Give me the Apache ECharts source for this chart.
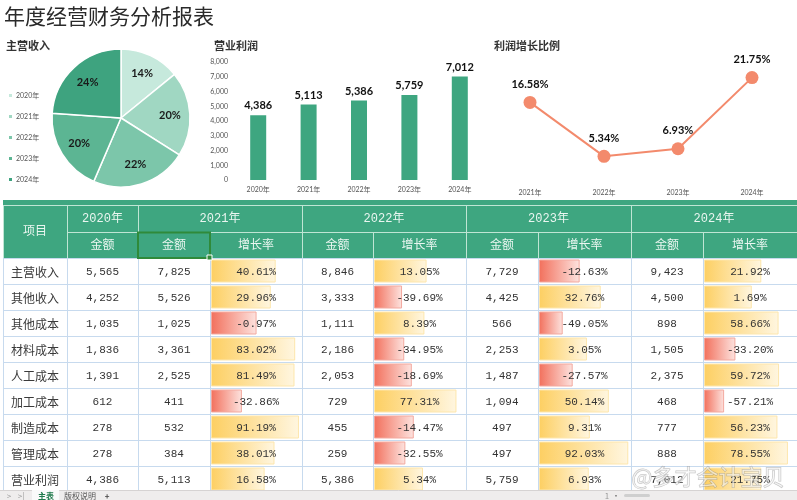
<!DOCTYPE html>
<html><head><meta charset="utf-8">
<script src="https://cdn.jsdelivr.net/npm/echarts@6/dist/echarts.min.js"></script>
<style>html,body{margin:0;padding:0;background:#fff}#c{width:797px;height:500px}</style>
</head><body><div id="c"></div><script>
// ---------- data ----------
const years = ['2020年', '2021年', '2022年', '2023年', '2024年'];
const growthYears = ['2021年', '2022年', '2023年', '2024年'];
const revenue = [5565, 7825, 8846, 7729, 9423];
const profit = [4386, 5113, 5386, 5759, 7012];
const profitGrowth = [16.58, 5.34, 6.93, 21.75];
const rowNames = ['主营收入', '其他收入', '其他成本', '材料成本', '人工成本', '加工成本', '制造成本', '管理成本', '营业利润'];
const amt2020 = [5565, 4252, 1035, 1836, 1391, 612, 278, 278, 4386];
const amt2021 = [7825, 5526, 1025, 3361, 2525, 411, 532, 384, 5113];
const rate2021 = [40.61, 29.96, -0.97, 83.02, 81.49, -32.86, 91.19, 38.01, 16.58];
const amt2022 = [8846, 3333, 1111, 2186, 2053, 729, 455, 259, 5386];
const rate2022 = [13.05, -39.69, 8.39, -34.95, -18.69, 77.31, -14.47, -32.55, 5.34];
const amt2023 = [7729, 4425, 566, 2253, 1487, 1094, 497, 497, 5759];
const rate2023 = [-12.63, 32.76, -49.05, 3.05, -27.57, 50.14, 9.31, 92.03, 6.93];
const amt2024 = [9423, 4500, 898, 1505, 2375, 468, 777, 888, 7012];
const rate2024 = [21.92, 1.69, 58.66, -33.20, 59.72, -57.21, 56.23, 78.55, 21.75];
const profitTicks = [0, 8000, 1000];

// ---------- layout ----------
const CJK = '"Noto Sans CJK SC"';
const NUMF = 'Lato, "Noto Sans CJK SC"';
const MONO = '"Liberation Mono", "Noto Sans CJK SC"';
const colX = [3, 67, 138, 210, 302, 373, 466, 538, 631, 703, 797];
const dataTop = 258, rowH = 26;
const headGreen = '#3ea680', headLine = '#bfe5d4', cellLine = '#c7daee';
const fmt = v => v.toLocaleString('en-US');
const cx = (a, b) => (a + b) / 2;

const g = [];
// header background
g.push({type: 'rect', shape: {x: 3, y: 200, width: 794, height: 58}, style: {fill: headGreen}});
g.push({type: 'line', shape: {x1: 3, y1: 205.5, x2: 797, y2: 205.5}, style: {stroke: headLine, lineWidth: 1}});
g.push({type: 'line', shape: {x1: 67, y1: 232.5, x2: 797, y2: 232.5}, style: {stroke: headLine, lineWidth: 1}});
g.push({type: 'line', shape: {x1: 3.5, y1: 205, x2: 3.5, y2: 258}, style: {stroke: headLine, lineWidth: 1}});
[67, 138, 302, 466, 631].forEach(x => g.push({type: 'line', shape: {x1: x + .5, y1: 205, x2: x + .5, y2: 232}, style: {stroke: headLine, lineWidth: 1}}));
[67, 138, 210, 302, 373, 466, 538, 631, 703].forEach(x => g.push({type: 'line', shape: {x1: x + .5, y1: 232, x2: x + .5, y2: 258}, style: {stroke: headLine, lineWidth: 1}}));
// data grid lines
for (let i = 0; i <= rowNames.length; i++) {
  const y = dataTop + i * rowH + .5;
  g.push({type: 'line', shape: {x1: 3, y1: y, x2: 797, y2: y}, style: {stroke: cellLine, lineWidth: 1}});
}
colX.slice(0, 10).forEach(x => g.push({type: 'line', shape: {x1: x + .5, y1: dataTop, x2: x + .5, y2: 492}, style: {stroke: cellLine, lineWidth: 1}}));
// header texts
const headTxt = (t, x, y) => g.push({type: 'text', style: {text: t, x: x, y: y, align: 'center', verticalAlign: 'middle', fill: '#eaf6f0', fontSize: 12, fontFamily: MONO}});
headTxt('项目', cx(3, 67), 232);
headTxt(years[0], cx(67, 138), 219);
headTxt(years[1], cx(138, 302), 219);
headTxt(years[2], cx(302, 466), 219);
headTxt(years[3], cx(466, 631), 219);
headTxt(years[4], cx(631, 797), 219);
headTxt('金额', cx(67, 138), 246);
[[138, 210, 302], [302, 373, 466], [466, 538, 631], [631, 703, 797]].forEach(c => {
  headTxt('金额', cx(c[0], c[1]), 246);
  headTxt('增长率', cx(c[1], c[2]), 246);
});
// selection box
g.push({type: 'rect', shape: {x: 138, y: 232.5, width: 72, height: 25.5}, style: {fill: 'none', stroke: '#2f8a3a', lineWidth: 2}, z: 50});
g.push({type: 'rect', shape: {x: 207, y: 255, width: 5, height: 5}, style: {fill: '#2f8a3a', stroke: '#fff', lineWidth: 1}, z: 51});
// data texts
const amtCols = [[amt2020, 67, 138], [amt2021, 138, 210], [amt2022, 302, 373], [amt2023, 466, 538], [amt2024, 631, 703]];
rowNames.forEach((n, i) => {
  const y = dataTop + i * rowH + rowH / 2 + 1;
  g.push({type: 'text', style: {text: n, x: cx(3, 67), y: y, align: 'center', verticalAlign: 'middle', fill: '#3a3a3a', fontSize: 12, fontFamily: CJK}});
  amtCols.forEach(c => g.push({type: 'text', style: {text: fmt(c[0][i]), x: cx(c[1], c[2]), y: y, align: 'center', verticalAlign: 'middle', fill: '#333', fontSize: 11, fontFamily: MONO}}));
});
// sheet tab bar
g.push({type: 'rect', shape: {x: 0, y: 490, width: 797, height: 10}, style: {fill: '#efeded'}, z: 60});
g.push({type: 'line', shape: {x1: 0, y1: 490.5, x2: 797, y2: 490.5}, style: {stroke: '#d6d3d3', lineWidth: 1}, z: 61});
g.push({type: 'rect', shape: {x: 32, y: 490, width: 27, height: 10}, style: {fill: '#fafafa'}, z: 61});
const tabTxt = (t, x, col, w) => g.push({type: 'text', style: {text: t, x: x, y: 496, align: 'center', verticalAlign: 'middle', fill: col, fontSize: 8, fontWeight: w || 'normal', fontFamily: CJK}, z: 62});
tabTxt('>', 9, '#999'); tabTxt('>|', 21, '#999');
tabTxt('主表', 46, '#1f7a4c', 'bold'); tabTxt('版权说明', 80, '#555'); tabTxt('+', 107, '#444', 'bold');
tabTxt('1', 607, '#999'); tabTxt('•', 616, '#666');
g.push({type: 'rect', shape: {x: 624, y: 494, width: 26, height: 3, r: 1.5}, style: {fill: '#cfcfcf'}, z: 62});
// watermark
g.push({type: 'text', style: {text: '@多才会计宝贝', x: 708, y: 477, align: 'center', verticalAlign: 'middle', fill: 'rgba(255,255,255,0.55)', stroke: 'rgba(120,120,120,0.45)', lineWidth: 1, fontSize: 22, fontFamily: CJK}, z: 70});

// ---------- data bar series ----------
const rateCols = [[rate2021, 210, 302], [rate2022, 373, 466], [rate2023, 538, 631], [rate2024, 703, 797]];
function dataBarSeries(rates, idx) {
  return {
    type: 'custom', xAxisIndex: idx, yAxisIndex: idx, silent: true, z: 5,
    data: rates.map((v, i) => [v, i]), encode: {x: 0, y: 1},
    renderItem: function (params, api) {
      const v = api.value(0), r = api.value(1);
      const s = api.coord([-100, r]), e = api.coord([v, r]), m = api.coord([0, r]);
      const bh = api.size([0, 1])[1];
      const pos = v >= 0;
      return {type: 'group', children: [
        {type: 'rect', shape: {x: s[0] + 1.5, y: s[1] - bh / 2 + 2, width: e[0] - s[0] - 1, height: bh - 4},
          style: {fill: new echarts.graphic.LinearGradient(0, 0, 1, 0, [
            {offset: 0, color: pos ? '#fdcf62' : '#f2705c'},
            {offset: 1, color: pos ? '#fff6e0' : '#fde3df'}]),
            stroke: pos ? '#fde6ac' : '#f3a99f', lineWidth: 1}},
        {type: 'text', style: {text: v.toFixed(2) + '%', x: m[0], y: m[1] + 1, align: 'center', verticalAlign: 'middle', fill: '#333', fontSize: 11, fontFamily: MONO}}
      ]};
    }
  };
}

const grids = [
  {left: 233, top: 62, width: 252, height: 118},
  {left: 493, top: 62, width: 296, height: 120}
];
const xAxes = [
  {gridIndex: 0, type: 'category', data: years, axisLine: {show: false}, axisTick: {show: false},
    axisLabel: {fontSize: 7, color: '#555', margin: 6, fontFamily: NUMF}},
  {gridIndex: 1, type: 'category', data: growthYears, axisLine: {show: false}, axisTick: {show: false},
    axisLabel: {fontSize: 7, color: '#555', margin: 7, fontFamily: NUMF}}
];
const yAxes = [
  {gridIndex: 0, type: 'value', min: profitTicks[0], max: profitTicks[1], interval: profitTicks[2], splitLine: {show: false},
    axisLine: {show: false}, axisTick: {show: false},
    axisLabel: {fontSize: 7, color: '#555', margin: 5, fontFamily: NUMF, formatter: v => fmt(v)}},
  {gridIndex: 1, type: 'value', min: 0, max: 25, show: false}
];
rateCols.forEach((c, k) => {
  grids.push({left: c[1], top: dataTop, width: c[2] - c[1], height: rowH * rowNames.length});
  xAxes.push({gridIndex: k + 2, type: 'value', min: -100, max: 100, show: false});
  yAxes.push({gridIndex: k + 2, type: 'category', data: rowNames, inverse: true, show: false});
});

const option = {
  backgroundColor: '#fff',
  animation: false,
  title: [
    {text: '年度经营财务分析报表', left: 4, top: 6, padding: 0, textStyle: {fontSize: 21, fontWeight: 'normal', color: '#2a2a2a', fontFamily: CJK}},
    {text: '主营收入', left: 6, top: 40, padding: 0, textStyle: {fontSize: 11, fontWeight: 'bold', color: '#333', fontFamily: CJK}},
    {text: '营业利润', left: 214, top: 40, padding: 0, textStyle: {fontSize: 11, fontWeight: 'bold', color: '#333', fontFamily: CJK}},
    {text: '利润增长比例', left: 494, top: 40, padding: 0, textStyle: {fontSize: 11, fontWeight: 'bold', color: '#333', fontFamily: CJK}}
  ],
  legend: {
    data: years, orient: 'vertical', left: 7, top: 91, itemWidth: 5, itemHeight: 5, itemGap: 12, padding: 0,
    icon: 'rect', textStyle: {fontSize: 7, color: '#555', fontFamily: NUMF, lineHeight: 9, padding: [0, 0, 0, -2]}
  },
  grid: grids, xAxis: xAxes, yAxis: yAxes,
  graphic: {elements: g},
  series: [
    {
      type: 'pie', center: [121, 118], radius: [0, 69], startAngle: 90,
      data: years.map((y, i) => ({name: y, value: revenue[i]})),
      color: ['#c6e9dc', '#a0d7c2', '#7cc6aa', '#5cb593', '#3ea37f'],
      itemStyle: {borderColor: '#fff', borderWidth: 1.5},
      label: {show: false}, labelLine: {show: false}, silent: true
    },
    {
      type: 'pie', center: [121, 118], radius: [23, 69], startAngle: 90,
      data: years.map((y, i) => ({name: y, value: revenue[i]})),
      itemStyle: {color: 'rgba(0,0,0,0)'}, silent: true, legendHoverLink: false,
      label: {show: true, position: 'inside', fontSize: 11, fontWeight: 'bold', color: '#1a1a1a', fontFamily: NUMF,
        formatter: p => Math.round(p.percent) + '%'},
      labelLine: {show: false}
    },
    {
      type: 'bar', xAxisIndex: 0, yAxisIndex: 0, data: profit, barWidth: 16,
      itemStyle: {color: '#3ea680'},
      label: {show: true, position: 'top', distance: 4, fontSize: 11, fontWeight: 'bold', color: '#111', fontFamily: NUMF, formatter: p => fmt(p.value)}
    },
    {
      type: 'line', xAxisIndex: 1, yAxisIndex: 1, data: profitGrowth, symbol: 'circle', symbolSize: 13,
      lineStyle: {color: '#f38a6c', width: 2}, itemStyle: {color: '#f38a6c'},
      label: {show: true, position: 'top', distance: 6, fontSize: 11, fontWeight: 'bold', color: '#111', fontFamily: NUMF, formatter: p => p.value.toFixed(2) + '%'}
    }
  ].concat(rateCols.map((c, k) => dataBarSeries(c[0], k + 2)))
};
echarts.init(document.getElementById('c'), null, {renderer: 'canvas'}).setOption(option);
</script></body></html>
